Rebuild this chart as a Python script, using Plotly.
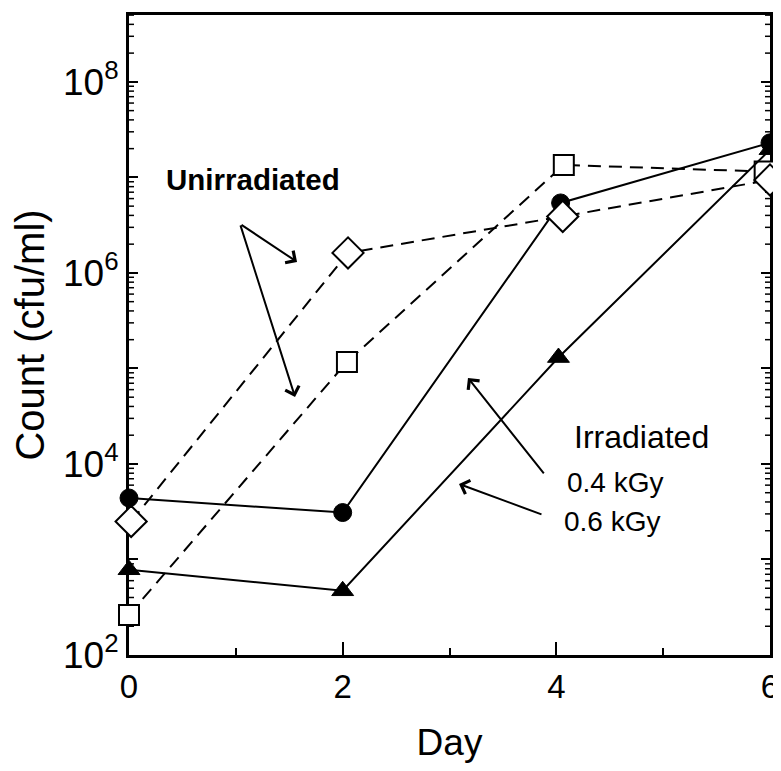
import math
import plotly.graph_objects as go

# ---- data ----
days_04 = [0, 2, 4.04, 6]
count_04 = [4400, 3100, 5.4e6, 2.3e7]          # Irradiated 0.4 kGy (filled circle)

days_06 = [0, 2, 4.02, 6]
count_06 = [780, 470, 1.3e5, 1.95e7]           # Irradiated 0.6 kGy (filled triangle)

days_ua = [0.02, 2.05, 4.06, 6.0]
count_ua = [2500, 1.62e6, 3.9e6, 9.4e6]        # Unirradiated (open diamond)

days_ub = [0, 2.04, 4.07, 5.95]
count_ub = [263, 1.17e5, 1.35e7, 1.15e7]       # Unirradiated (open square)

x_ticks = [0, 2, 4, 6]
y_decades = [2, 3, 4, 5, 6, 7, 8]
y_tickvals = [10 ** e for e in y_decades]
y_ticktext = ["10<sup>2</sup>", "", "10<sup>4</sup>", "", "10<sup>6</sup>", "", "10<sup>8</sup>"]
Y_RANGE = [2, 8.7]
y_minorvals = [m * 10 ** e for e in y_decades for m in range(2, 10)
               if math.log10(m * 10 ** e) < Y_RANGE[1]]

FONT = "Liberation Sans, Arial, Helvetica, sans-serif"

fig = go.Figure()

fig.add_trace(go.Scatter(
    x=days_ub, y=count_ub, mode="lines+markers", cliponaxis=False,
    line=dict(color="black", width=2, dash="13px,8px"),
    marker=dict(symbol="square", size=20, color="white", line=dict(color="black", width=2)),
    showlegend=False))
fig.add_trace(go.Scatter(
    x=days_06, y=count_06, mode="lines+markers", cliponaxis=False,
    line=dict(color="black", width=2),
    marker=dict(symbol="triangle-up", size=19, color="black", line=dict(color="black", width=1)),
    showlegend=False))
fig.add_trace(go.Scatter(
    x=days_04, y=count_04, mode="lines+markers", cliponaxis=False,
    line=dict(color="black", width=2),
    marker=dict(symbol="circle", size=18, color="black", line=dict(color="black", width=1)),
    showlegend=False))
fig.add_trace(go.Scatter(
    x=days_ua, y=count_ua, mode="lines+markers", cliponaxis=False,
    line=dict(color="black", width=2, dash="13px,8px"),
    marker=dict(symbol="diamond", size=24, color="white", line=dict(color="black", width=2)),
    showlegend=False))

# ---- minor log ticks (2..9 of each decade), both sides, as axis-domain decorations ----
tick_frac = 5 / 641.0
for v in y_minorvals:
    fy = (math.log10(v) - Y_RANGE[0]) / (Y_RANGE[1] - Y_RANGE[0])
    for x0, x1 in ((0, tick_frac), (1 - tick_frac, 1)):
        fig.add_shape(type="line", xref="x domain", yref="y domain",
                      x0=x0, x1=x1, y0=fy, y1=fy, layer="below",
                      line=dict(color="black", width=1.5))

# ---- text labels ----
fig.add_annotation(x=0.33, y=6.974, xref="x", yref="y", text="<b>Unirradiated</b>",
                   showarrow=False, xanchor="left", yanchor="middle",
                   font=dict(family=FONT, size=29.5, color="black"))
fig.add_annotation(x=4.147, y=4.283, xref="x", yref="y", text="Irradiated",
                   showarrow=False, xanchor="left", yanchor="middle",
                   font=dict(family=FONT, size=32, color="black"))
fig.add_annotation(x=4.081, y=3.801, xref="x", yref="y", text="0.4 kGy",
                   showarrow=False, xanchor="left", yanchor="middle",
                   font=dict(family=FONT, size=28, color="black"))
fig.add_annotation(x=4.053, y=3.393, xref="x", yref="y", text="0.6 kGy",
                   showarrow=False, xanchor="left", yanchor="middle",
                   font=dict(family=FONT, size=28, color="black"))

# ---- arrows ----
arrows = [
    ((1.039, 6.513), (1.573, 6.115)),
    ((1.039, 6.513), (1.554, 4.702)),
    ((3.894, 3.885), (3.173, 4.901)),
    ((3.875, 3.466), (3.089, 3.791)),
]
for (tx, ty), (hx, hy) in arrows:
    fig.add_annotation(x=hx, y=hy, ax=tx, ay=ty, xref="x", yref="y", axref="x", ayref="y",
                       text="", showarrow=True, arrowhead=4, arrowsize=1.4,
                       arrowwidth=2, arrowcolor="black", standoff=0, startstandoff=0)

fig.update_layout(
    xaxis=dict(
        range=[0, 6], tickvals=x_ticks, ticktext=[str(v) for v in x_ticks],
        ticks="inside", ticklen=13, tickwidth=2, tickcolor="black",
        minor=dict(ticks="inside", ticklen=7, tickwidth=2, tickcolor="black", dtick=1),
        showline=True, linecolor="black", linewidth=3, mirror=True,
        showgrid=False, zeroline=False, layer="below traces",
        tickfont=dict(family=FONT, size=33, color="black"), ticklabelstandoff=0,
        title=dict(text="Day", font=dict(family=FONT, size=37, color="black"), standoff=37),
        automargin=False,
    ),
    yaxis=dict(
        type="log", range=Y_RANGE, tickmode="array", tickvals=y_tickvals, ticktext=y_ticktext,
        ticks="inside", ticklen=9, tickwidth=2, tickcolor="black",
        showline=True, linecolor="black", linewidth=3, mirror="ticks",
        showgrid=False, zeroline=False, layer="below traces",
        tickfont=dict(family=FONT, size=37, color="black"), ticklabelstandoff=0,
        title=dict(text="Count (cfu/ml)", font=dict(family=FONT, size=40, color="black"), standoff=10),
        automargin=False,
    ),
    width=773, height=755,
    margin=dict(l=121, r=11, t=7, b=108),
    plot_bgcolor="white", paper_bgcolor="white",
    font=dict(family=FONT, color="black"),
)

fig.write_html("out.html")
